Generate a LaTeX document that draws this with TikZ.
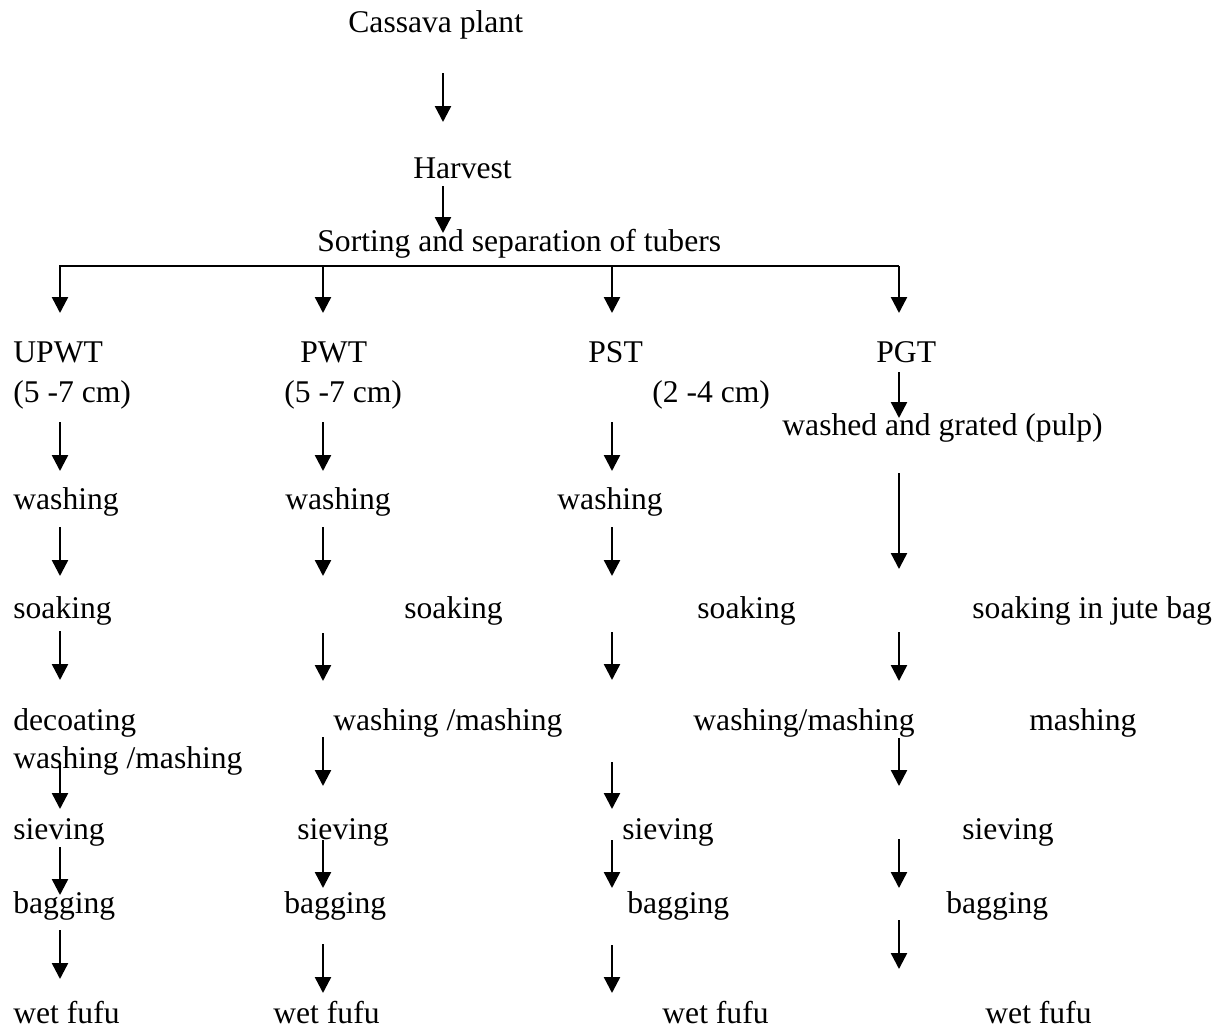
\documentclass[tikz,border=0pt]{standalone}
\usepackage{fontspec}
\setmainfont{Liberation Serif}
\usetikzlibrary{arrows.meta,positioning}
\tikzset{
  stage/.style  = {anchor=base west, inner sep=0pt, font=\fontsize{15.8}{19}\selectfont},
  flow/.style   = {-{Triangle[length=8pt,width=8pt]}, line width=1.2pt},
  branch/.style = {line width=1.1pt}
}
\begin{document}
\begin{tikzpicture}[x=0.5pt, y=-0.5pt]
\useasboundingbox (0,0) rectangle (1221,1029);

% top of the chart
\node[stage] (plant)   at (348,32)  {Cassava plant};
\node[stage] (harvest) at (413,178) {Harvest};
\node[stage] (sort)    at (317,251) {Sorting and separation of tubers};

% the four kinds of tubers
\begin{scope}[every node/.style={stage}]
\node (upwt)  at (13,362)  {UPWT};
\node (upwts) at (13,402)  {(5 -7 cm)};
\node (pwt)   at (300,362) {PWT};
\node (pwts)  at (284,402) {(5 -7 cm)};
\node (pst)   at (588,362) {PST};
\node (psts)  at (652,402) {(2 -4 cm)};
\node (pgt)   at (876,362) {PGT};
\node (grate) at (782,435) {washed and grated (pulp)};

\node (wash1) at (13,509)  {washing};
\node (wash2) at (285,509) {washing};
\node (wash3) at (557,509) {washing};

\node (soak1) at (13,618)  {soaking};
\node (soak2) at (404,618) {soaking};
\node (soak3) at (697,618) {soaking};
\node (soak4) at (972,618) {soaking in jute bag};

\node (decoat1) at (13,730)   {decoating};
\node (mash1)   at (13,768)   {washing /mashing};
\node (mash2)   at (333,730)  {washing /mashing};
\node (mash3)   at (693,730)  {washing/mashing};
\node (mash4)   at (1029,730) {mashing};

\node (sieve1) at (13,839)  {sieving};
\node (sieve2) at (297,839) {sieving};
\node (sieve3) at (622,839) {sieving};
\node (sieve4) at (962,839) {sieving};

\node (bag1) at (13,913)  {bagging};
\node (bag2) at (284,913) {bagging};
\node (bag3) at (627,913) {bagging};
\node (bag4) at (946,913) {bagging};

\node (fufu1) at (13,1023)  {wet fufu};
\node (fufu2) at (273,1023) {wet fufu};
\node (fufu3) at (662,1023) {wet fufu};
\node (fufu4) at (985,1023) {wet fufu};
\end{scope}

% arrows of the main line
\coordinate (plant tail)   at (443,73);
\coordinate (plant tip)    at (443,122);
\coordinate (harvest tail) at (443,186);
\coordinate (harvest tip)  at (443,233);
\draw[flow] (plant tail) -- (plant tip);
\draw[flow] (harvest tail) -- (harvest tip);

% the split into four
\coordinate (split left)  at (59,266);
\coordinate (split right) at (899,266);
\draw[branch] (split left) -- (split right);
\foreach \k/\x in {1/60, 2/323, 3/612, 4/899} {
  \coordinate (b\k tail) at (\x,266);
  \coordinate (b\k tip)  at (\x,313);
  \draw[flow] (b\k tail) -- (b\k tip);
}

% arrows down each column
\foreach \n/\ya/\yb in {1/422/471, 2/527/576, 3/631/680, 4/765/809, 5/847/895, 6/930/979} {
  \coordinate (u\n tail) at (60,\ya);
  \coordinate (u\n tip)  at (60,\yb);
  \draw[flow] (u\n tail) -- (u\n tip);
}
\foreach \n/\ya/\yb in {1/422/471, 2/527/576, 3/633/681, 4/737/786, 5/840/888, 6/944/993} {
  \coordinate (p\n tail) at (323,\ya);
  \coordinate (p\n tip)  at (323,\yb);
  \draw[flow] (p\n tail) -- (p\n tip);
}
\foreach \n/\ya/\yb in {1/422/471, 2/527/576, 3/632/680, 4/762/809, 5/840/888, 6/945/993} {
  \coordinate (s\n tail) at (612,\ya);
  \coordinate (s\n tip)  at (612,\yb);
  \draw[flow] (s\n tail) -- (s\n tip);
}
\foreach \n/\ya/\yb in {1/372/418, 2/473/569, 3/632/681, 4/738/786, 5/839/888, 6/920/969} {
  \coordinate (g\n tail) at (899,\ya);
  \coordinate (g\n tip)  at (899,\yb);
  \draw[flow] (g\n tail) -- (g\n tip);
}
\end{tikzpicture}
\end{document}
